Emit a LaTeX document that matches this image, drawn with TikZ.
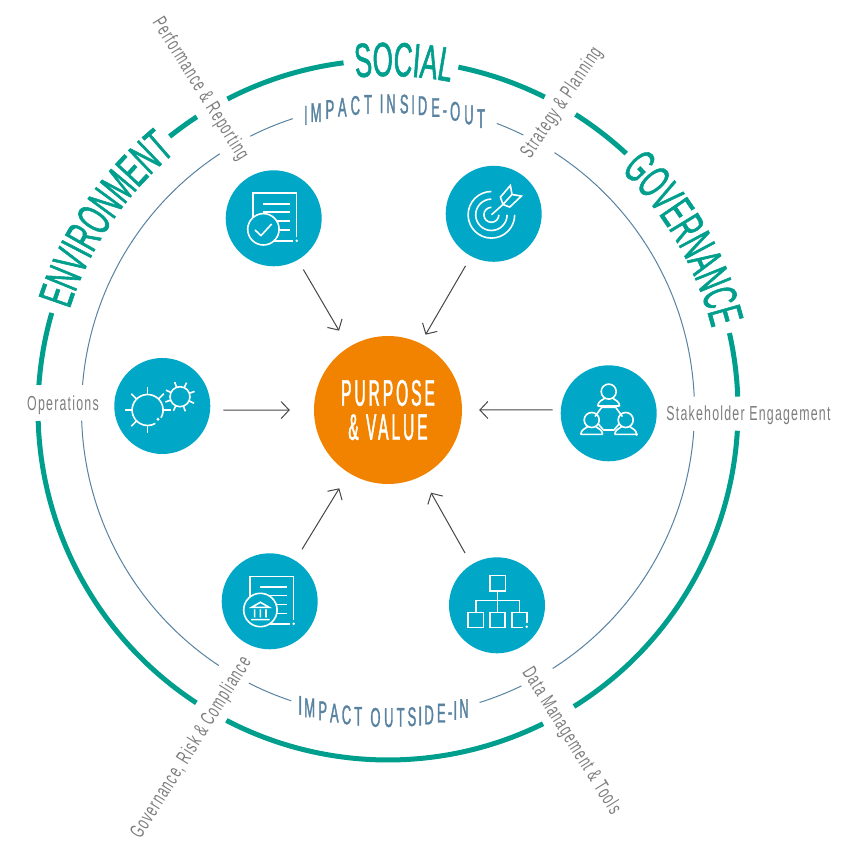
\documentclass[tikz,border=0pt]{standalone}
\usepackage{fontspec}
\usetikzlibrary{positioning}
\usetikzlibrary{arrows.meta}
\usetikzlibrary{decorations.text}

\newfontfamily\headfont[FakeStretch=.54,FakeBold=1.2]{Liberation Sans}
\newfontfamily\impactfont[FakeStretch=.48,FakeBold=1.2]{Liberation Sans}
\newfontfamily\hubfont[FakeStretch=.42,LetterSpace=8,FakeBold=1.2]{Liberation Sans}
\newfontfamily\labelfont[FakeStretch=.61,LetterSpace=6]{Liberation Sans}

\definecolor{ringteal}{RGB}{0,158,140}
\definecolor{ringblue}{RGB}{88,130,160}
\definecolor{ballblue}{RGB}{0,167,199}
\definecolor{huborange}{RGB}{241,131,0}
\definecolor{labelgray}{RGB}{125,125,125}
\definecolor{flowgray}{RGB}{70,70,70}

\tikzset{
  iconball/.style={circle,fill=ballblue,minimum size=96pt,inner sep=0pt},
  hub/.style={circle,fill=huborange,minimum size=148pt,inner sep=0pt,text=white,align=center,
    font=\hubfont\fontsize{37}{34}\selectfont},
  outerring/.style={draw=ringteal,line width=5pt},
  innerring/.style={draw=ringblue,line width=1pt},
  sidelabel/.style={text=labelgray,inner sep=0pt,font=\labelfont\fontsize{20.3}{20.3}\selectfont},
  headtext/.style={decorate,decoration={text along path,text align=center,
    text={|\headfont\fontsize{48}{48}\selectfont\color{ringteal}|#1}}},
  impacttext/.style={decorate,decoration={text effects along path,text={#1},
    text effects/.cd,fit text to path,
    characters={text=ringblue,anchor=base,inner sep=0pt,font=\impactfont\fontsize{27}{27}\selectfont}}},
  flow/.style={draw=flowgray,line width=1pt,-{Straight Barb[length=8pt,width=17pt]}},
  iconline/.style={draw=white,line width=1.6pt},
  paper/.pic={
    \draw[iconline] (-20.5,0) -- (-20.5,25) -- (23,25) -- (23,-19) (-5,-22.5) -- (19,-22.5)
      (-11,14.5) -- (16,14.5) (-11,6) -- (16,6) (-5,-3) -- (16,-3) (-5,-12) -- (16,-12);
    \fill[white] (23,-22.5) circle (1.4);
  },
  person/.pic={
    \draw[iconline] (0,0) circle (7.5)
      (-11,-14.4) .. controls (-10.5,-10) and (-7,-8.5) .. (-4.5,-7)
      (11,-14.4) .. controls (10.5,-10) and (7,-8.5) .. (4.5,-7)
      (-11,-14.4) -- (11,-14.4);
  }
}

\begin{document}
\begin{tikzpicture}[x=1pt,y=1pt,node distance=100pt,on grid]
  \useasboundingbox (-388,-435) rectangle (455,410);

  \foreach \from/\to in {78.4/63.4,57.6/47.1,12.7/2.2,-3.4/-57.9,-63.7/-117.5,-123.2/-178.2,175.9/163.9,128.6/123.1,117.3/97.3}
    \draw[outerring] (\from:350) arc[start angle=\from,end angle=\to,radius=350];
  \foreach \from/\to in {69.2/63.8,57.1/2.5,-3.9/-57.5,-64.2/-72.6,251.6/243,236.5/182,175.3/123.3,116.7/108.1}
    \draw[innerring] (\from:306.5) arc[start angle=\from,end angle=\to,radius=306.5];

  \path[headtext=SOCIAL] (117.4:334) arc[start angle=117.4,end angle=57.4,radius=334];
  \path[headtext=ENVIRONMENT] (181:334) arc[start angle=181,end angle=111,radius=334];
  \path[headtext=GOVERNANCE] (65:334) arc[start angle=65,end angle=-5,radius=334];
  \path[impacttext={IMPACT INSIDE-OUT}] (106.4:297) arc[start angle=106.4,end angle=71,radius=297];
  \path[impacttext={IMPACT OUTSIDE-IN}] (253.6:317) arc[start angle=253.6,end angle=284.7,radius=317];

  \node[hub]      (purpose) at (0,0)                       {PURPOSE\\\& VALUE};
  \node[iconball] (perf)     [above left=191.7pt and 114.3pt of purpose]  {};
  \node[iconball] (strategy) [above right=196.2pt and 105.7pt of purpose] {};
  \node[iconball] (ops)      [above left=4pt and 225.7pt of purpose]      {};
  \node[iconball] (stake)    [below right=3.3pt and 220.7pt of purpose]   {};
  \node[iconball] (gov)      [below left=191.3pt and 118.3pt of purpose]  {};
  \node[iconball] (data)     [below right=195.3pt and 109pt of purpose]   {};

  \node[sidelabel,rotate=-58] (perflabel)     at (-188,321)   {Performance \& Reporting};
  \node[sidelabel,rotate=56]  (strategylabel) at (174,307)    {Strategy \& Planning};
  \node[sidelabel]            (opslabel)      at (-325,4.5)   {Operations};
  \node[sidelabel]            (stakelabel)    at (360.5,-5.5) {Stakeholder Engagement};
  \node[sidelabel,rotate=58]  (govlabel)      at (-196.3,-338) {Governance, Risk \& Compliance};
  \node[sidelabel,rotate=-58] (datalabel)     at (183,-331)   {Data Management \& Tools};

  \path (perf.-60)      edge [flow,shorten <=11pt,shorten >=19pt] (purpose.122)
        (strategy.-118) edge [flow,shorten <=11pt,shorten >=10pt] (purpose.64)
        (ops.-5)        edge [flow,shorten <=13pt,shorten >=24pt] (purpose.180)
        (stake.176)     edge [flow,shorten <=8pt,shorten >=17pt]  (purpose.0)
        (gov.58)        edge [flow,shorten <=13pt,shorten >=18pt] (purpose.238)
        (data.122)      edge [flow,shorten <=13pt,shorten >=19pt] (purpose.-63);

  \pic at (perf.center) {paper};
  \begin{scope}[shift={(perf.center)}]
    \draw[iconline,fill=ballblue] (-10.3,-11) circle (15.7);
    \draw[iconline] (-18.7,-11.7) -- (-12.7,-17.3) -- (-2,-5.7);
  \end{scope}

  \begin{scope}[shift={(strategy.center)}]
    \draw[iconline] (-2.3,22.3) arc[start angle=90,end angle=360,radius=23.3]
      (-2.3,14.7) arc[start angle=90,end angle=360,radius=15.7]
      (-2.3,6.5) arc[start angle=90,end angle=360,radius=7.5]
      (-2.3,-1) -- (9.3,9.3) -- (18.3,19.3)
      (9.3,9.3) -- (6.7,16.7) -- (16.7,28.3) -- (18.3,19.3) -- (27.7,17.7) -- (16,6.7) -- cycle;
  \end{scope}

  \begin{scope}[shift={(ops.center)}]
    \draw[iconline] (-14.7,-4) ++(-30:15.5) arc[start angle=-30,end angle=300,radius=15.5];
    \foreach \ang in {0,45,...,270}
      \draw[iconline] (-14.7,-4) ++(\ang:15.5) -- ++(\ang:7.5);
    \fill[white] (-4.3,-13.3) circle (1.6);
    \draw[iconline] (17.7,9.3) circle (10);
    \foreach \ang in {20,65,...,340}
      \draw[iconline] (17.7,9.3) ++(\ang:10) -- ++(\ang:5.5);
  \end{scope}

  \pic at (stake.center) [shift={(0,21.7)}] {person};
  \pic at (stake.center) [shift={(-17,-6.7)}] {person};
  \pic at (stake.center) [shift={(17,-6.7)}] {person};
  \begin{scope}[shift={(stake.center)}]
    \draw[iconline] (-13.7,-3.3) -- (-7,6) -- (7,6) -- (13.7,-3.3)
      (-10.3,-10.7) -- (-5.3,-16.7) -- (5.3,-16.7) -- (10.3,-10.7);
    \fill[white] (28,-21.3) circle (1.4);
  \end{scope}

  \pic at ([xshift=1pt]gov.center) {paper};
  \begin{scope}[shift={(gov.center)}]
    \draw[iconline,fill=ballblue] (-9.3,-8.7) circle (16.7);
    \draw[iconline] (-18,-6) -- (-9.3,-1) -- (-0.6,-6) -- cycle (-18.5,-18.3) -- (0,-18.3)
      (-15,-8) -- (-15,-16) (-9.3,-8) -- (-9.3,-16) (-3.7,-8) -- (-3.7,-16);
  \end{scope}

  \begin{scope}[shift={(data.center)}]
    \draw[iconline] (-7,14.3) rectangle (8.3,29.7) (0.5,14.3) -- (0.5,-7)
      (-21.3,-7) -- (-21.3,4.7) -- (22.3,4.7) -- (22.3,-7)
      (-29,-22) rectangle (-13.7,-7) (-7,-22) rectangle (7.7,-7)
      (29.7,-18) -- (29.7,-7) -- (14.7,-7) -- (14.7,-22) -- (26,-22);
    \fill[white] (29.7,-21.5) circle (1.4);
  \end{scope}
\end{tikzpicture}
\end{document}
